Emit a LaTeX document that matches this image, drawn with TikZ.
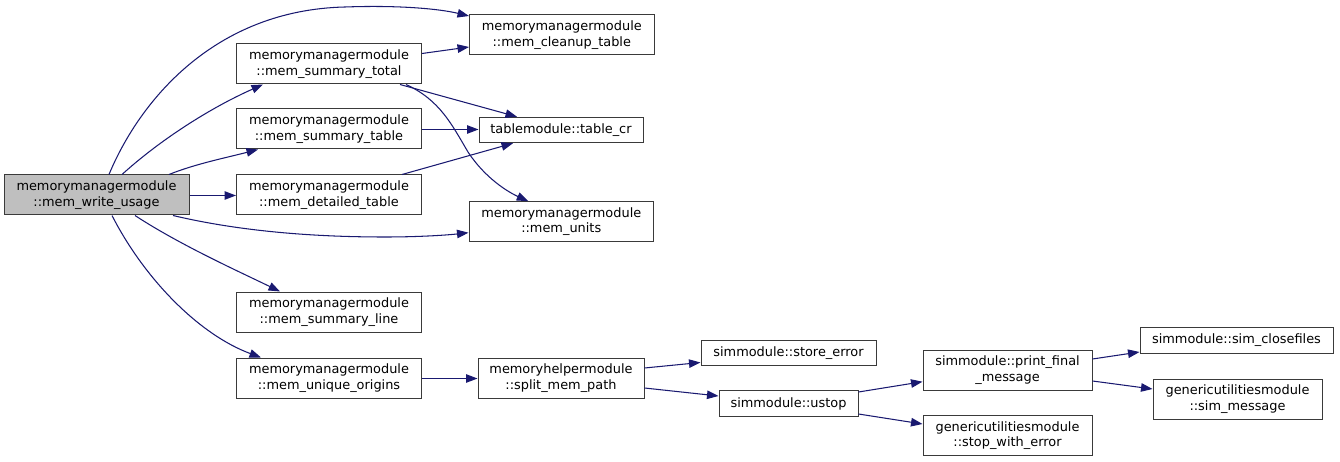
\documentclass[tikz,border=0pt]{standalone}
\usepackage{fontspec}
\setmainfont{DejaVu Sans}
\usetikzlibrary{arrows.meta}
\definecolor{edgeblue}{HTML}{191970}
\definecolor{rootgray}{HTML}{BFBFBF}
\definecolor{boxline}{HTML}{3A3A3A}
\tikzset{
  fn/.style={draw=boxline, line width=1pt, fill=white, rectangle, inner sep=0pt, align=center,
    font=\fontsize{12.9}{15.5}\selectfont},
  rootfn/.style={fn, fill=rootgray},
  call/.style={draw=edgeblue, line width=1.05pt, -{Triangle[length=11.5pt,width=8.5pt]}, edgeblue}
}
\begin{document}
\begin{tikzpicture}[x=1pt,y=-1pt]
\useasboundingbox (0,0) rectangle (1340,462);
% nodes
\node[rootfn, minimum width=185pt, minimum height=40pt] (A) at (96.5,195) {memorymanagermodule\\::mem\_write\_usage};
\node[fn, minimum width=185pt, minimum height=40pt] (B) at (329,64) {memorymanagermodule\\::mem\_summary\_total};
\node[fn, minimum width=185pt, minimum height=40pt] (C) at (329,129) {memorymanagermodule\\::mem\_summary\_table};
\node[fn, minimum width=185pt, minimum height=40pt] (D) at (329,195) {memorymanagermodule\\::mem\_detailed\_table};
\node[fn, minimum width=185pt, minimum height=40pt] (E) at (329,312) {memorymanagermodule\\::mem\_summary\_line};
\node[fn, minimum width=185pt, minimum height=40pt] (F) at (329,378) {memorymanagermodule\\::mem\_unique\_origins};
\node[fn, minimum width=184.5pt, minimum height=40pt] (G) at (561.75,35) {memorymanagermodule\\::mem\_cleanup\_table};
\node[fn, minimum width=164pt, minimum height=25.5pt] (H) at (561,130) {tablemodule::table\_cr};
\node[fn, minimum width=184.5pt, minimum height=40pt] (I) at (561.25,221.7) {memorymanagermodule\\::mem\_units};
\node[fn, minimum width=166pt, minimum height=40pt] (J) at (561,378) {memoryhelpermodule\\::split\_mem\_path};
\node[fn, minimum width=175pt, minimum height=25.5pt] (K) at (788.5,352.75) {simmodule::store\_error};
\node[fn, minimum width=139pt, minimum height=25.5pt] (L) at (788.5,403.5) {simmodule::ustop};
\node[fn, minimum width=169pt, minimum height=40pt] (M) at (1007.5,370) {simmodule::print\_final\\\_message};
\node[fn, minimum width=169pt, minimum height=40pt] (N) at (1007.5,435.7) {genericutilitiesmodule\\::stop\_with\_error};
\node[fn, minimum width=193pt, minimum height=25.5pt] (O) at (1236.5,340.5) {simmodule::sim\_closefiles};
\node[fn, minimum width=169pt, minimum height=40pt] (P) at (1237.5,399) {genericutilitiesmodule\\::sim\_message};
% edges
\draw[call] ([xshift=12.5pt]A.north) .. controls (140,100) and (215,10) .. (345,7) .. controls (400,5) and (440,9) .. ([yshift=-1.5pt]G.north west);
\draw[call] ([xshift=25.5pt]A.north) .. controls (160,140) and (210,108) .. ([xshift=-66pt]B.south);
\draw[call] ([xshift=72.5pt]A.north) .. controls (195,164) and (225,158) .. ([xshift=-71pt]C.south);
\draw[call] ([yshift=-0.5pt]A.east) -- ([yshift=-0.5pt]D.west);
\draw[call] ([xshift=76.5pt]A.south) .. controls (230,229) and (300,237) .. (385,237) .. controls (420,237) and (448,235) .. ([yshift=-11pt]I.west);
\draw[call] ([xshift=38.5pt]A.south) .. controls (180,245) and (240,272) .. ([xshift=-49pt]E.north);
\draw[call] ([xshift=15.5pt]A.south) .. controls (145,280) and (200,335) .. ([xshift=-68pt]F.north);
\draw[call] ([yshift=10.5pt]B.east) -- ([yshift=-12pt]G.west);
\draw[call] ([xshift=71pt]B.south) -- ([xshift=-44pt]H.north);
\draw[call] ([xshift=77pt]B.south) .. controls (440,100) and (452,125) .. (468,152) .. controls (485,178) and (508,192) .. ([xshift=-33pt]I.north);
\draw[call] ([yshift=-0.5pt]C.east) -- ([yshift=-0.5pt]C.east -| H.west);
\draw[call] ([xshift=73pt]D.north) -- ([xshift=-48pt]H.south);
\draw[call] ([yshift=-0.5pt]F.east) -- ([yshift=-0.5pt]J.west);
\draw[call] ([yshift=10pt]J.east) -- ([yshift=-9.75pt]K.west);
\draw[call] ([yshift=-10pt]J.east) -- ([yshift=7.5pt]L.west);
\draw[call] ([yshift=11.5pt]L.east) -- ([yshift=-11.7pt]M.west);
\draw[call] ([yshift=-10.5pt]L.east) -- ([yshift=11.7pt]N.west);
\draw[call] ([yshift=11pt]M.east) -- ([yshift=-11.5pt]O.west);
\draw[call] ([yshift=-11pt]M.east) -- ([yshift=10pt]P.west);
\end{tikzpicture}
\end{document}
